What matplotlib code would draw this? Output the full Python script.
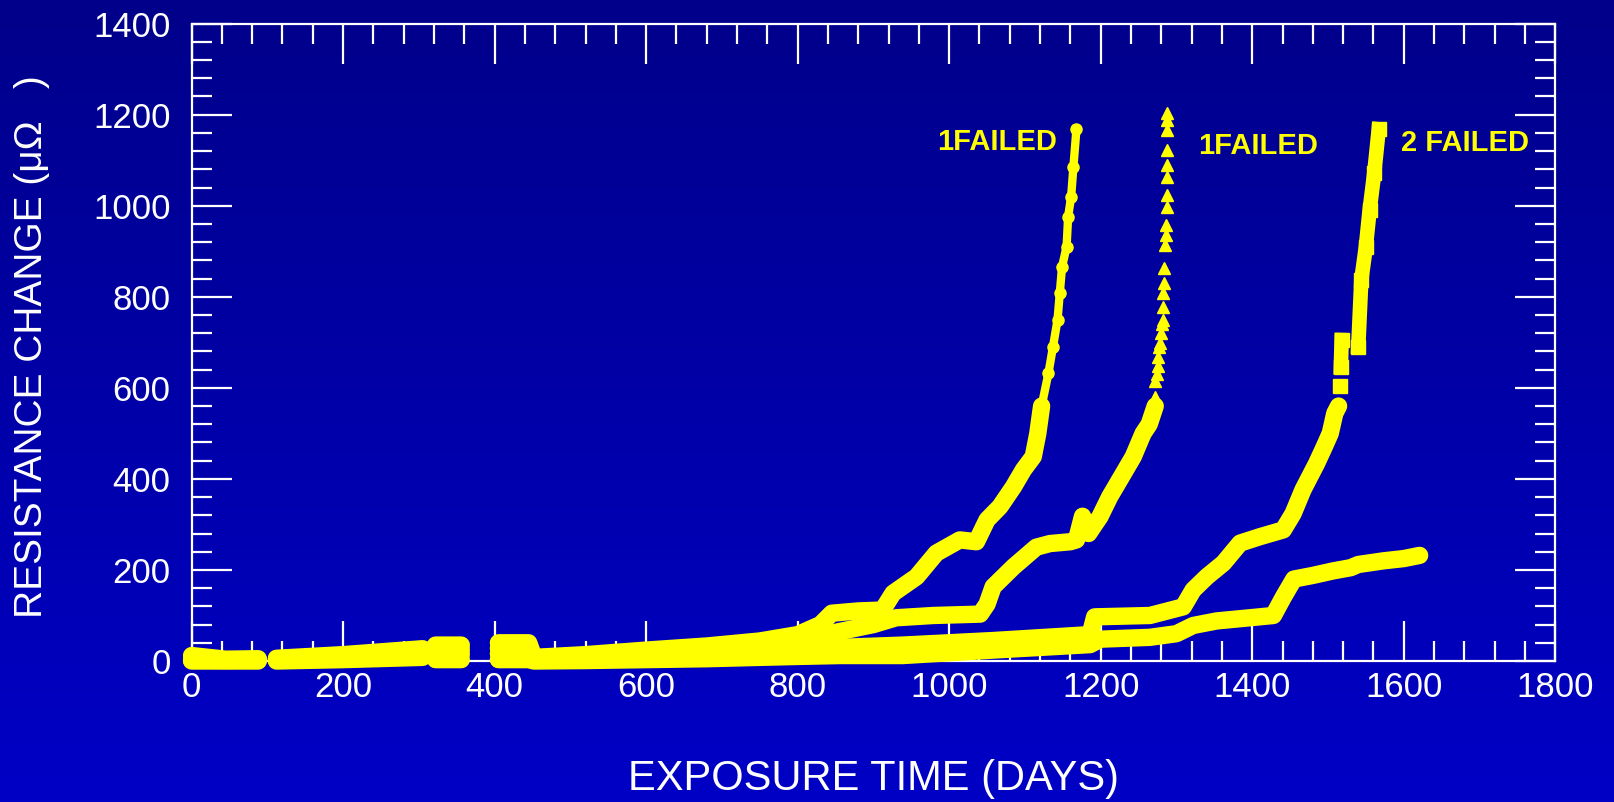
import numpy as np
import matplotlib.pyplot as plt
from matplotlib.ticker import MultipleLocator
from matplotlib.colors import LinearSegmentedColormap

plt.rcParams['font.family'] = ['Liberation Sans', 'DejaVu Sans']

nan = np.nan
YELLOW = '#ffff00'

# series 1 (circles) - dense band, then sparse tail up to failure
a_band_days = [0, 45, 88, nan, 112, 200, 305, nan, 322, 356, nan, 405, 445, 452, 520, 600, 680, 750,
               800, 830, 845, 880, 912, 926, 957, 983, 1014, 1036, 1050, 1067, 1085, 1098, 1111, 1117, 1122]
a_band_vals = [12, 4, 5, nan, 6, 14, 27, nan, 35, 35, nan, 40, 40, 8, 14, 24, 33, 44,
               58, 80, 105, 110, 112, 149, 185, 237, 266, 262, 310, 339, 383, 420, 449, 500, 560]
a_tail_days = [1122, 1131, 1137, 1143, 1146, 1149, 1155, 1157, 1161, 1164, 1168]
a_tail_vals = [560, 632, 690, 749, 808, 866, 910, 976, 1020, 1086, 1168]

# series 2 (triangles)
b_band_days = [0, 45, 88, nan, 112, 200, 305, nan, 322, 356, nan, 405, 445, 452, 520, 600, 680, 750,
               800, 856, 900, 930, 979, 1041, 1050, 1058, 1085, 1115, 1133, 1160, 1168, 1176, 1184,
               1190, 1199, 1212, 1230, 1243, 1256, 1264, 1272]
b_band_vals = [3, 2, 3, nan, 4, 10, 20, nan, 25, 25, nan, 28, 28, 5, 9, 16, 24, 33,
               45, 65, 80, 95, 100, 103, 125, 163, 207, 250, 258, 262, 266, 318, 280,
               295, 317, 361, 412, 449, 500, 520, 560]
b_tail_days = [1272, 1272, 1274, 1276, 1276, 1277, 1278, 1280, 1281, 1282, 1282, 1282, 1283, 1284,
               1285, 1286, 1286, 1287, 1288, 1288, 1288, 1288, 1288, 1288, 1288]
b_tail_vals = [581, 614, 630, 647, 668, 690, 698, 720, 740, 749, 778, 808, 830, 863,
               914, 936, 958, 998, 1024, 1064, 1090, 1123, 1166, 1188, 1203]

# series 3 (squares)
c_band_days = [0, 45, 88, nan, 112, 200, 305, nan, 322, 356, nan, 405, 445, 452, 520, 600, 680, 750,
               800, 856, 939, 1058, 1186, 1192, 1265, 1309, 1322, 1340, 1362, 1384, 1410, 1441,
               1454, 1467, 1485, 1495, 1503, 1509, 1514]
c_band_vals = [2, 1, 2, nan, 2, 6, 14, nan, 15, 15, nan, 16, 16, 3, 5, 9, 14, 20,
               26, 30, 35, 45, 58, 97, 100, 119, 156, 185, 215, 259, 273, 288,
               324, 376, 434, 470, 500, 544, 560]
c_tail_days = [1516, nan, 1517, 1518, nan, 1540, 1544, 1550, 1555, 1561, 1567]
c_tail_vals = [605, nan, 645, 705, nan, 690, 837, 910, 991, 1071, 1168]

# series 4 (not failed)
d_band_days = [0, 45, 88, nan, 112, 200, 305, nan, 322, 356, nan, 405, 445, 452, 520, 600, 680, 750,
               800, 856, 939, 1058, 1186, 1200, 1265, 1300, 1322, 1353, 1397, 1428, 1441, 1455,
               1480, 1507, 1530, 1540, 1573, 1600, 1621]
d_band_vals = [0, 0, 0, nan, 0, 3, 8, nan, 3, 3, nan, 3, 3, 0, 1, 3, 5, 8,
               10, 12, 12, 24, 36, 48, 52, 60, 78, 88, 95, 100, 140, 180,
               188, 198, 205, 212, 220, 225, 232]

labels = ['1FAILED', '1FAILED', '2 FAILED']
label_days = [1063, 1408, 1681]
label_vals = [1140, 1131, 1138]

fig = plt.figure(figsize=(16.14, 8.02), dpi=100)

# background gradient (dark navy at the top, brighter blue at the bottom)
bg = fig.add_axes([0, 0, 1, 1], zorder=-1)
grad = np.linspace(0, 1, 256).reshape(-1, 1)
bg_cmap = LinearSegmentedColormap.from_list('bg', ['#00008a', '#0000c6'])
bg.imshow(grad, aspect='auto', cmap=bg_cmap, extent=[0, 1, 0, 1], origin='upper')
bg.set_axis_off()

ax = fig.add_axes([0.1187, 0.1758, 0.8449, 0.7947])
ax.patch.set_alpha(0)

band_kw = dict(color=YELLOW, lw=12.5, solid_capstyle='round', solid_joinstyle='round',
               clip_on=False, zorder=3)
for d, v in [(a_band_days, a_band_vals), (b_band_days, b_band_vals),
             (c_band_days, c_band_vals), (d_band_days, d_band_vals)]:
    ax.plot(d, v, **band_kw)

ax.plot(a_tail_days, a_tail_vals, color=YELLOW, lw=6, marker='o', ms=8, mec=YELLOW,
        clip_on=False, zorder=3)
ax.plot(b_tail_days, b_tail_vals, ls='none', marker='^', ms=9, color=YELLOW, mec=YELLOW,
        clip_on=False, zorder=3)
ax.plot(c_tail_days, c_tail_vals, color=YELLOW, lw=10.5, marker='s', ms=10, mec=YELLOW,
        clip_on=False, zorder=3)

for t, x, y in zip(labels, label_days, label_vals):
    ax.text(x, y, t, color=YELLOW, fontsize=21, fontweight='bold', ha='center', va='center')

ax.set_xlim(0, 1800)
ax.set_ylim(0, 1400)
ax.xaxis.set_major_locator(MultipleLocator(200))
ax.xaxis.set_minor_locator(MultipleLocator(40))
ax.yaxis.set_major_locator(MultipleLocator(200))
ax.yaxis.set_minor_locator(MultipleLocator(40))

for s in ax.spines.values():
    s.set_color('white')
    s.set_linewidth(1.6)
ax.tick_params(which='both', direction='in', top=True, right=True, colors='white', width=1.6,
               labelsize=25)
ax.tick_params(which='major', length=29)
ax.tick_params(which='minor', length=14.5)
ax.tick_params(axis='y', pad=15)
ax.tick_params(axis='x', pad=7)

fig.text(873 / 1614, 1 - 779 / 802, 'EXPOSURE TIME (DAYS)', color='white', fontsize=30,
         ha='center', va='center')
fig.text(32 / 1614, 1 - 618 / 802, 'RESISTANCE CHANGE (μΩ   )', color='white', fontsize=28,
         ha='center', va='bottom', rotation=90)

fig.savefig('out.png', dpi=100)
